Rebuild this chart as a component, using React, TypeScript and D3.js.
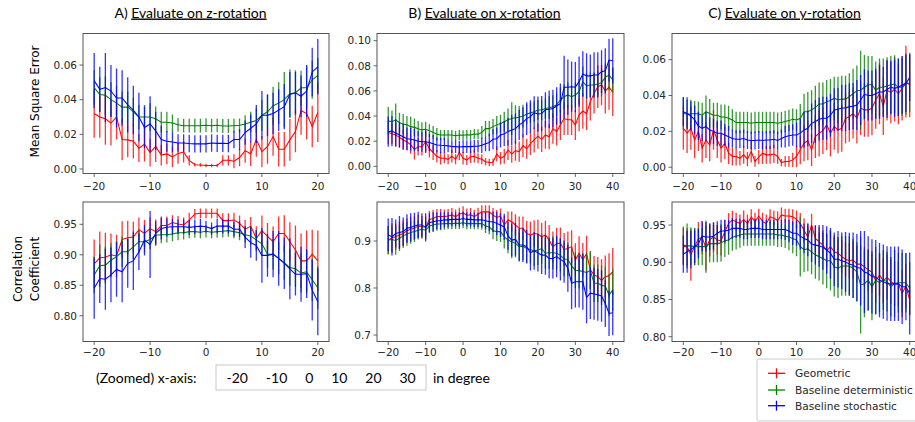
import React from "react";
import * as d3 from "d3";

// ---------- categories (degrees) ----------
const degZ = d3.range(-20, 21);
const degXY = d3.range(-20, 41);

// ---------- tick labels ----------
const ticksMseZ = [0, 0.02, 0.04, 0.06];
const ticksMseX = [0, 0.02, 0.04, 0.06, 0.08, 0.1];
const ticksMseY = [0, 0.02, 0.04, 0.06];
const ticksCorrZ = [0.8, 0.85, 0.9, 0.95];
const ticksCorrX = [0.7, 0.8, 0.9];
const ticksCorrY = [0.8, 0.85, 0.9, 0.95];
const xTicksZ = [-20, -10, 0, 10, 20];
const xTicksXY = [-20, -10, 0, 10, 20, 30, 40];
const titles = ["A) ", "B) ", "C) "];
const titleUnder = ["Evaluate on z-rotation", "Evaluate on x-rotation", "Evaluate on y-rotation"];
const legendLabels = ["Geometric", "Baseline deterministic", "Baseline stochastic"];
const zoomedTicks = ["-20", "-10", "0", "10", "20", "30"];

// ---------- MSE, z-rotation ----------
const mseZ_geo = [0.032,0.030,0.029,0.0265,0.030,0.017,0.0168,0.016,0.012,0.0143,
 0.0095,0.013,0.008,0.0087,0.007,0.009,0.0098,0.005,0.0025,0.0023,
 0.002,0.002,0.002,0.005,0.005,0.0045,0.0066,0.0106,0.0087,0.017,
 0.010,0.013,0.0187,0.0114,0.0114,0.0168,0.0216,0.0338,0.032,0.0245,
 0.0326];
const mseZ_geoErr = [0.014,0.012,0.015,0.013,0.013,0.012,0.010,0.010,0.008,0.010,
 0.008,0.009,0.006,0.006,0.006,0.006,0.006,0.003,0.001,0.001,
 0.001,0.001,0.001,0.003,0.003,0.004,0.005,0.007,0.007,0.010,
 0.009,0.010,0.011,0.010,0.010,0.012,0.012,0.014,0.015,0.012,
 0.017];
const mseZ_det = [0.047,0.043,0.0425,0.040,0.038,0.0357,0.0357,0.033,0.030,0.030,
 0.030,0.029,0.027,0.027,0.0265,0.0255,0.025,0.025,0.025,0.025,
 0.0253,0.025,0.0252,0.0248,0.0248,0.025,0.0252,0.026,0.027,0.028,
 0.031,0.033,0.0365,0.038,0.040,0.0434,0.044,0.0467,0.047,0.0515,
 0.054];
const mseZ_detErr = [0.010,0.010,0.011,0.010,0.010,0.009,0.009,0.008,0.007,0.007,
 0.008,0.007,0.006,0.006,0.005,0.004,0.004,0.004,0.004,0.004,
 0.004,0.004,0.004,0.004,0.004,0.004,0.004,0.005,0.006,0.007,
 0.009,0.010,0.011,0.012,0.016,0.014,0.013,0.010,0.012,0.011,
 0.010];
const mseZ_sto = [0.051,0.046,0.047,0.045,0.041,0.041,0.037,0.034,0.030,0.024,
 0.026,0.022,0.017,0.016,0.0156,0.015,0.015,0.0147,0.0145,0.0145,
 0.0145,0.015,0.0148,0.0148,0.0147,0.017,0.017,0.021,0.0235,0.026,
 0.031,0.031,0.032,0.034,0.036,0.043,0.044,0.042,0.045,0.056,
 0.059];
const mseZ_stoErr = [0.016,0.013,0.020,0.015,0.017,0.016,0.016,0.014,0.014,0.012,
 0.016,0.011,0.008,0.006,0.006,0.005,0.005,0.005,0.005,0.005,
 0.005,0.005,0.005,0.005,0.005,0.005,0.006,0.007,0.008,0.011,
 0.014,0.012,0.012,0.012,0.013,0.013,0.012,0.012,0.015,0.014,
 0.016];

// ---------- MSE, x-rotation ----------
const mseX_geo = [0.027,0.026,0.025,0.023,0.021,0.0196,0.017,0.0135,0.0156,0.0156,
 0.0196,0.014,0.011,0.008,0.0064,0.0064,0.0056,0.008,0.0056,0.011,
 0.0064,0.005,0.0077,0.008,0.0064,0.0056,0.0037,0.003,0.0033,0.0098,
 0.0064,0.008,0.013,0.0098,0.0125,0.0117,0.0165,0.014,0.018,0.021,
 0.024,0.0215,0.025,0.0236,0.030,0.0276,0.033,0.038,0.037,0.037,
 0.033,0.041,0.044,0.042,0.0515,0.058,0.0634,0.0647,0.060,0.063,
 0.059];
const mseX_geoErr = [0.009,0.008,0.009,0.008,0.008,0.007,0.007,0.008,0.007,0.007,0.008,
 0.007,0.006,0.005,0.005,0.004,0.004,0.005,0.004,0.006,
 0.005,0.004,0.005,0.005,0.004,0.004,0.003,0.003,0.003,0.006,0.005,
 0.006,0.008,0.007,0.008,0.008,0.009,0.008,0.009,0.010,0.010,
 0.010,0.011,0.010,0.012,0.011,0.012,0.013,0.012,0.012,0.012,
 0.013,0.014,0.013,0.015,0.016,0.017,0.016,0.018,0.018,0.019];
const mseX_det = [0.0363,0.0355,0.037,0.0347,0.0337,0.033,0.0316,0.031,0.030,0.029,
 0.0295,0.0284,0.027,0.0255,0.025,0.025,0.025,0.025,0.0244,0.025,
 0.0248,0.0252,0.025,0.0257,0.0255,0.027,0.030,0.030,0.0316,0.033,
 0.034,0.0355,0.037,0.038,0.0387,0.039,0.040,0.0414,0.0427,0.0435,
 0.0448,0.0448,0.046,0.0467,0.0475,0.049,0.0528,0.0554,0.0568,0.0554,
 0.0568,0.0594,0.0674,0.064,0.0647,0.0647,0.0655,0.0666,0.0708,0.0727,
 0.0687];
const mseX_detErr = [0.011,0.009,0.013,0.008,0.008,0.007,0.008,0.007,0.006,0.006,0.006,
 0.005,0.005,0.005,0.004,0.004,0.004,0.004,0.004,0.004,
 0.004,0.004,0.004,0.004,0.004,0.005,0.006,0.006,0.006,0.007,0.007,
 0.008,0.009,0.013,0.010,0.009,0.009,0.008,0.008,0.008,0.008,
 0.008,0.008,0.009,0.009,0.009,0.010,0.010,0.010,0.009,0.010,
 0.010,0.012,0.010,0.010,0.010,0.010,0.011,0.011,0.012,0.010];
const mseX_sto = [0.0276,0.028,0.0265,0.025,0.0236,0.022,0.0215,0.021,0.020,0.0196,
 0.0196,0.019,0.018,0.017,0.0167,0.0165,0.0163,0.0157,0.0157,0.0154,
 0.0157,0.0157,0.0157,0.016,0.016,0.0167,0.018,0.019,0.0215,0.022,
 0.025,0.026,0.0276,0.029,0.030,0.033,0.035,0.038,0.0395,0.0427,
 0.0416,0.042,0.045,0.0454,0.046,0.048,0.050,0.063,0.063,0.0634,
 0.063,0.0674,0.0735,0.072,0.072,0.0727,0.0727,0.0753,0.076,0.0846,
 0.084];
const mseX_stoErr = [0.012,0.012,0.011,0.010,0.010,0.009,0.009,0.009,0.008,0.008,0.009,
 0.007,0.007,0.006,0.006,0.006,0.005,0.005,0.005,0.005,
 0.005,0.005,0.005,0.005,0.005,0.006,0.006,0.007,0.008,0.009,0.010,
 0.010,0.011,0.012,0.012,0.012,0.012,0.013,0.013,0.013,0.014,
 0.014,0.014,0.015,0.015,0.015,0.016,0.025,0.022,0.020,0.020,
 0.020,0.018,0.018,0.017,0.018,0.018,0.017,0.018,0.017,0.018];

// ---------- MSE, y-rotation ----------
const mseY_geo = [0.0217,0.019,0.0217,0.0152,0.020,0.0106,0.0152,0.0124,0.0208,0.0152,
 0.0106,0.0134,0.0078,0.006,0.006,0.005,0.0069,0.0045,0.0087,0.0032,
 0.0056,0.0078,0.0069,0.0069,0.0074,0.006,0.0026,0.0032,0.0032,0.0041,
 0.006,0.0097,0.0134,0.0149,0.0097,0.0171,0.019,0.0204,0.0236,0.019,
 0.0227,0.0208,0.0217,0.0273,0.0282,0.030,0.0273,0.0329,0.032,0.032,
 0.0329,0.0375,0.041,0.034,0.043,0.0416,0.0435,0.041,0.044,0.0477,
 0.0459];
const mseY_geoErr = [0.012,0.011,0.012,0.010,0.011,0.008,0.010,0.009,0.011,0.010,0.008,
 0.009,0.006,0.005,0.005,0.004,0.005,0.004,0.006,0.003,
 0.004,0.006,0.005,0.005,0.005,0.004,0.002,0.003,0.003,0.004,0.006,
 0.008,0.010,0.011,0.009,0.012,0.013,0.013,0.014,0.013,0.013,
 0.013,0.013,0.014,0.014,0.014,0.014,0.015,0.015,0.015,0.015,
 0.016,0.017,0.016,0.017,0.017,0.018,0.017,0.018,0.020,0.018];
const mseY_det = [0.030,0.0297,0.0297,0.030,0.0297,0.029,0.031,0.030,0.029,0.029,
 0.028,0.028,0.0273,0.0264,0.0249,0.0249,0.0249,0.0249,0.0245,0.0249,
 0.0249,0.0249,0.0249,0.0249,0.0249,0.0245,0.0249,0.0255,0.026,0.0268,
 0.0264,0.0273,0.031,0.031,0.032,0.0334,0.0353,0.0353,0.0366,0.0372,
 0.0385,0.0375,0.038,0.038,0.0394,0.041,0.0427,0.043,0.0446,0.046,
 0.046,0.043,0.0446,0.0446,0.0453,0.046,0.0464,0.0446,0.0446,0.0464,
 0.047];
const mseY_detErr = [0.009,0.008,0.008,0.007,0.007,0.007,0.009,0.008,0.007,0.007,0.007,
 0.007,0.007,0.006,0.006,0.006,0.006,0.006,0.006,0.006,
 0.006,0.006,0.006,0.006,0.006,0.006,0.006,0.006,0.006,0.006,0.006,
 0.008,0.010,0.011,0.011,0.012,0.012,0.012,0.012,0.012,0.012,
 0.013,0.013,0.013,0.013,0.014,0.014,0.022,0.018,0.016,0.016,
 0.016,0.016,0.016,0.016,0.016,0.016,0.016,0.016,0.017,0.016];
const mseY_sto = [0.031,0.030,0.0286,0.0264,0.023,0.0217,0.0227,0.0208,0.020,0.019,
 0.019,0.018,0.017,0.016,0.0156,0.0156,0.016,0.0152,0.0149,0.0149,
 0.0152,0.0149,0.0152,0.0152,0.0156,0.0149,0.016,0.017,0.0175,0.018,
 0.018,0.019,0.0208,0.0217,0.0245,0.0255,0.0268,0.0273,0.0273,0.029,
 0.032,0.0323,0.033,0.033,0.0338,0.034,0.0347,0.0375,0.0407,0.040,
 0.040,0.041,0.042,0.042,0.0435,0.0446,0.044,0.0446,0.0459,0.0468,
 0.050];
const mseY_stoErr = [0.008,0.009,0.008,0.008,0.008,0.007,0.008,0.007,0.007,0.007,0.007,
 0.006,0.006,0.005,0.005,0.005,0.005,0.005,0.005,0.005,
 0.005,0.005,0.005,0.005,0.005,0.005,0.005,0.006,0.006,0.006,0.007,
 0.008,0.010,0.010,0.011,0.012,0.012,0.012,0.012,0.012,0.012,
 0.012,0.013,0.013,0.013,0.013,0.014,0.014,0.014,0.014,0.014,
 0.014,0.015,0.014,0.016,0.015,0.016,0.016,0.016,0.016,0.013];

// ---------- Correlation, z-rotation ----------
const corZ_geo = [0.885,0.895,0.896,0.900,0.898,0.925,0.928,0.929,0.941,0.935,
 0.943,0.938,0.948,0.948,0.953,0.9505,0.949,0.957,0.967,0.968,
 0.968,0.968,0.968,0.956,0.956,0.957,0.9516,0.942,0.947,0.927,
 0.9396,0.930,0.9215,0.935,0.935,0.9215,0.908,0.890,0.890,0.901,
 0.890];
const corZ_geoErr = [0.040,0.043,0.040,0.035,0.035,0.030,0.028,0.025,0.020,0.022,
 0.018,0.020,0.015,0.015,0.012,0.013,0.012,0.012,0.008,0.008,
 0.008,0.008,0.008,0.012,0.012,0.012,0.013,0.015,0.015,0.020,
 0.025,0.022,0.025,0.028,0.030,0.032,0.040,0.045,0.050,0.040,
 0.050];
const corZ_det = [0.867,0.882,0.883,0.891,0.897,0.905,0.905,0.913,0.9215,0.9215,
 0.925,0.932,0.933,0.933,0.934,0.936,0.936,0.938,0.938,0.937,
 0.9385,0.937,0.938,0.9385,0.9396,0.938,0.936,0.933,0.931,0.924,
 0.918,0.901,0.901,0.894,0.887,0.879,0.877,0.870,0.872,0.859,
 0.846];
const corZ_detErr = [0.030,0.035,0.030,0.028,0.025,0.025,0.022,0.020,0.018,0.018,
 0.016,0.015,0.014,0.013,0.012,0.012,0.011,0.011,0.010,0.010,
 0.010,0.010,0.010,0.010,0.010,0.011,0.012,0.013,0.015,0.017,
 0.020,0.022,0.025,0.026,0.028,0.030,0.030,0.032,0.035,0.035,
 0.035];
const corZ_sto = [0.845,0.861,0.860,0.867,0.876,0.872,0.886,0.890,0.905,0.924,
 0.917,0.935,0.943,0.945,0.946,0.946,0.946,0.945,0.946,0.947,
 0.946,0.943,0.947,0.947,0.947,0.942,0.942,0.929,0.920,0.915,
 0.899,0.899,0.901,0.894,0.886,0.877,0.868,0.868,0.869,0.842,
 0.823];
const corZ_stoErr = [0.050,0.040,0.050,0.045,0.045,0.050,0.040,0.048,0.030,0.025,
 0.055,0.020,0.018,0.015,0.013,0.012,0.012,0.012,0.012,0.012,
 0.010,0.010,0.012,0.012,0.012,0.012,0.013,0.018,0.025,0.025,
 0.045,0.035,0.038,0.045,0.042,0.050,0.035,0.045,0.040,0.050,
 0.055];

// ---------- Correlation, x-rotation ----------
const corX_geo = [0.902,0.907,0.909,0.913,0.916,0.922,0.925,0.927,0.932,0.930,
 0.930,0.946,0.948,0.952,0.952,0.952,0.953,0.955,0.952,0.957,
 0.960,0.955,0.956,0.952,0.957,0.962,0.962,0.962,0.955,0.950,
 0.953,0.934,0.945,0.941,0.934,0.927,0.927,0.916,0.913,0.916,
 0.915,0.909,0.913,0.902,0.887,0.895,0.895,0.882,0.884,0.888,
 0.860,0.874,0.860,0.873,0.839,0.828,0.824,0.816,0.824,0.826,
 0.835];
const corX_geoErr = [0.030,0.030,0.028,0.028,0.027,0.026,0.026,0.025,0.024,0.023,0.022,
 0.018,0.018,0.016,0.016,0.015,0.015,0.015,0.015,0.014,
 0.014,0.014,0.014,0.014,0.014,0.014,0.014,0.014,0.015,0.016,0.016,
 0.020,0.018,0.022,0.023,0.025,0.025,0.027,0.028,0.028,0.030,
 0.030,0.030,0.032,0.033,0.033,0.034,0.035,0.036,0.035,0.035,
 0.036,0.036,0.038,0.040,0.040,0.042,0.045,0.045,0.048,0.050];
const corX_det = [0.902,0.903,0.901,0.906,0.911,0.915,0.918,0.920,0.923,0.925,
 0.923,0.932,0.934,0.936,0.936,0.937,0.937,0.937,0.9375,0.9375,
 0.939,0.937,0.9375,0.937,0.937,0.937,0.932,0.930,0.922,0.920,
 0.920,0.909,0.902,0.8985,0.895,0.888,0.889,0.884,0.882,0.879,
 0.881,0.884,0.874,0.875,0.875,0.874,0.870,0.861,0.861,0.847,
 0.838,0.837,0.835,0.833,0.837,0.810,0.810,0.806,0.804,0.785,
 0.796];
const corX_detErr = [0.030,0.028,0.030,0.027,0.026,0.025,0.024,0.022,0.020,0.020,0.020,
 0.015,0.015,0.014,0.013,0.013,0.012,0.012,0.012,0.012,
 0.012,0.012,0.012,0.012,0.012,0.013,0.015,0.016,0.018,0.020,0.022,
 0.025,0.028,0.035,0.030,0.030,0.030,0.030,0.030,0.032,0.032,
 0.032,0.033,0.034,0.035,0.035,0.035,0.036,0.036,0.037,0.038,
 0.038,0.038,0.040,0.040,0.040,0.040,0.042,0.042,0.045,0.045];
const corX_sto = [0.913,0.909,0.916,0.918,0.920,0.927,0.929,0.932,0.934,0.934,
 0.929,0.939,0.941,0.943,0.943,0.945,0.945,0.946,0.946,0.946,
 0.948,0.946,0.946,0.945,0.945,0.945,0.943,0.941,0.941,0.9375,
 0.934,0.930,0.911,0.902,0.9035,0.8915,0.8915,0.888,0.875,0.879,
 0.875,0.870,0.870,0.863,0.863,0.867,0.861,0.856,0.842,0.810,
 0.8135,0.8135,0.8135,0.780,0.789,0.7875,0.7855,0.783,0.767,0.746,
 0.7475];
const corX_stoErr = [0.035,0.040,0.030,0.035,0.030,0.030,0.030,0.028,0.028,0.025,0.030,
 0.020,0.020,0.018,0.018,0.016,0.016,0.015,0.015,0.015,
 0.015,0.015,0.015,0.015,0.015,0.016,0.018,0.020,0.022,0.025,0.025,
 0.028,0.030,0.035,0.035,0.035,0.036,0.036,0.038,0.040,0.040,
 0.040,0.042,0.042,0.043,0.044,0.045,0.045,0.050,0.055,0.055,
 0.055,0.060,0.055,0.055,0.055,0.055,0.055,0.050,0.048,0.048];

// ---------- Correlation, y-rotation ----------
const corY_geo = [0.921,0.921,0.910,0.921,0.932,0.933,0.919,0.930,0.934,0.930,
 0.929,0.941,0.952,0.957,0.9545,0.952,0.9575,0.952,0.961,0.9545,
 0.962,0.9545,0.952,0.961,0.959,0.956,0.9635,0.962,0.962,0.961,
 0.9575,0.952,0.943,0.934,0.950,0.932,0.9275,0.923,0.9155,0.921,
 0.914,0.912,0.9075,0.904,0.902,0.903,0.8975,0.8975,0.894,0.8895,
 0.887,0.875,0.883,0.875,0.880,0.874,0.871,0.871,0.858,0.868,
 0.849];
const corY_geoErr = [0.025,0.025,0.035,0.025,0.022,0.022,0.030,0.022,0.020,0.020,0.020,
 0.016,0.014,0.012,0.012,0.012,0.012,0.012,0.010,0.012,
 0.010,0.012,0.012,0.010,0.010,0.012,0.010,0.010,0.010,0.010,0.012,
 0.014,0.016,0.018,0.015,0.018,0.020,0.020,0.022,0.022,0.022,
 0.022,0.022,0.023,0.024,0.025,0.025,0.025,0.026,0.028,0.028,
 0.030,0.028,0.030,0.030,0.030,0.030,0.030,0.032,0.030,0.020];
const corY_det = [0.923,0.922,0.922,0.921,0.921,0.921,0.921,0.925,0.925,0.925,
 0.926,0.929,0.930,0.9335,0.935,0.9365,0.938,0.938,0.938,0.938,
 0.938,0.938,0.938,0.938,0.938,0.9365,0.9365,0.935,0.934,0.932,
 0.930,0.921,0.917,0.918,0.914,0.910,0.9075,0.905,0.902,0.902,
 0.894,0.892,0.895,0.895,0.895,0.892,0.887,0.8695,0.871,0.876,
 0.867,0.876,0.8725,0.876,0.874,0.867,0.8715,0.8725,0.8725,0.8725,
 0.865];
const corY_detErr = [0.025,0.030,0.025,0.025,0.025,0.025,0.035,0.025,0.025,0.025,0.025,
 0.022,0.020,0.018,0.018,0.017,0.016,0.016,0.016,0.016,
 0.016,0.016,0.016,0.016,0.016,0.016,0.016,0.016,0.018,0.020,0.022,
 0.040,0.030,0.030,0.030,0.032,0.032,0.035,0.037,0.040,0.040,
 0.040,0.040,0.040,0.040,0.040,0.040,0.065,0.045,0.040,0.045,
 0.045,0.040,0.040,0.040,0.040,0.045,0.040,0.040,0.040,0.035];
const corY_sto = [0.911,0.914,0.917,0.921,0.925,0.935,0.934,0.934,0.935,0.939,
 0.942,0.942,0.943,0.9455,0.9455,0.9455,0.944,0.944,0.9455,0.9455,
 0.9455,0.944,0.944,0.944,0.944,0.944,0.944,0.944,0.942,0.939,
 0.939,0.935,0.932,0.930,0.9245,0.923,0.922,0.920,0.9165,0.912,
 0.904,0.904,0.902,0.9005,0.8975,0.896,0.893,0.892,0.887,0.885,
 0.881,0.880,0.876,0.874,0.8715,0.871,0.871,0.871,0.867,0.867,
 0.858];
const corY_stoErr = [0.025,0.028,0.025,0.022,0.020,0.020,0.020,0.018,0.018,0.016,0.015,
 0.015,0.014,0.014,0.013,0.013,0.013,0.013,0.013,0.013,
 0.013,0.013,0.013,0.013,0.013,0.013,0.013,0.014,0.015,0.016,0.017,
 0.018,0.020,0.022,0.024,0.026,0.028,0.030,0.032,0.034,0.036,
 0.038,0.038,0.040,0.042,0.044,0.045,0.050,0.055,0.050,0.050,
 0.050,0.050,0.050,0.050,0.050,0.050,0.050,0.050,0.045,0.055];

// ---------- styling ----------
const COLORS = ["#ff0000", "#008000", "#0000ff"];
const TICK_FONT = "'DejaVu Sans', sans-serif";
const TEXT_FONT = "Lato, 'DejaVu Sans', sans-serif";
const TXT = "#262626";

type Series = { mean: number[]; err: number[] };

type PanelProps = {
  id: string;
  x0: number; x1: number; y0: number; y1: number;
  xDom: [number, number]; yDom: [number, number];
  xs: number[]; xTicks: number[]; yTicks: number[]; yFmt: string;
  series: Series[]; xLabelDy: number;
};

function fmtX(v: number) {
  return v < 0 ? "\u2212" + Math.abs(v) : String(v);
}

function Panel(p: PanelProps) {
  const x = d3.scaleLinear().domain(p.xDom).range([p.x0, p.x1]);
  const y = d3.scaleLinear().domain(p.yDom).range([p.y1, p.y0]);
  const line = d3.line<number>().x((_, i) => x(p.xs[i])).y((d) => y(d));
  const f = d3.format(p.yFmt);
  return (
    <g>
      <defs>
        <clipPath id={p.id}>
          <rect x={p.x0} y={p.y0} width={p.x1 - p.x0} height={p.y1 - p.y0} />
        </clipPath>
      </defs>
      <rect x={p.x0} y={p.y0} width={p.x1 - p.x0} height={p.y1 - p.y0} fill="#fff" />
      <g clipPath={`url(#${p.id})`}>
        {p.series.map((s, si) => (
          <g key={si}>
            {s.mean.map((m, i) => (
              <line key={i} x1={x(p.xs[i])} x2={x(p.xs[i])} y1={y(m - s.err[i])} y2={y(m + s.err[i])}
                stroke={COLORS[si]} strokeWidth={1.3} strokeOpacity={0.8} />
            ))}
            <path d={line(s.mean) || ""} fill="none" stroke={COLORS[si]} strokeWidth={1.05} />
          </g>
        ))}
      </g>
      <rect x={p.x0} y={p.y0} width={p.x1 - p.x0} height={p.y1 - p.y0} fill="none" stroke="#555" strokeWidth={1} />
      {p.yTicks.map((t) => (
        <g key={"y" + t}>
          <line x1={p.x0 - 3.5} x2={p.x0} y1={y(t)} y2={y(t)} stroke="#555" strokeWidth={0.9} />
          <text x={p.x0 - 6} y={y(t)} dy="0.36em" textAnchor="end" fontFamily={TICK_FONT} fontSize={10.5} fill={TXT}>
            {f(t)}
          </text>
        </g>
      ))}
      {p.xTicks.map((t) => (
        <g key={"x" + t}>
          <line x1={x(t)} x2={x(t)} y1={p.y1} y2={p.y1 + 3.5} stroke="#555" strokeWidth={0.9} />
          <text x={x(t)} y={p.y1 + p.xLabelDy} dy="0.36em" textAnchor="middle" fontFamily={TICK_FONT} fontSize={10.5} fill={TXT}>
            {fmtX(t)}
          </text>
        </g>
      ))}
    </g>
  );
}

export default function App() {
  const colsX = [83, 377, 672];
  const colsW = [246, 247, 249];
  const top = { y0: 33.5, y1: 173.5 };
  const bot = { y0: 202, y1: 341.5 };

  const panels: PanelProps[] = [
    { id: "c1", x0: colsX[0], x1: colsX[0] + colsW[0], ...top, xDom: [-22, 22], yDom: [-0.0026, 0.0782],
      xs: degZ, xTicks: xTicksZ, yTicks: ticksMseZ, yFmt: ".2f", xLabelDy: 13,
      series: [{ mean: mseZ_geo, err: mseZ_geoErr }, { mean: mseZ_det, err: mseZ_detErr }, { mean: mseZ_sto, err: mseZ_stoErr }] },
    { id: "c2", x0: colsX[1], x1: colsX[1] + colsW[1], ...top, xDom: [-23, 43], yDom: [-0.0057, 0.1057],
      xs: degXY, xTicks: xTicksXY, yTicks: ticksMseX, yFmt: ".2f", xLabelDy: 13,
      series: [{ mean: mseX_geo, err: mseX_geoErr }, { mean: mseX_det, err: mseX_detErr }, { mean: mseX_sto, err: mseX_stoErr }] },
    { id: "c3", x0: colsX[2], x1: colsX[2] + colsW[2], ...top, xDom: [-23, 43], yDom: [-0.0035, 0.0746],
      xs: degXY, xTicks: xTicksXY, yTicks: ticksMseY, yFmt: ".2f", xLabelDy: 13,
      series: [{ mean: mseY_geo, err: mseY_geoErr }, { mean: mseY_det, err: mseY_detErr }, { mean: mseY_sto, err: mseY_stoErr }] },
    { id: "c4", x0: colsX[0], x1: colsX[0] + colsW[0], ...bot, xDom: [-22, 22], yDom: [0.7577, 0.9866],
      xs: degZ, xTicks: xTicksZ, yTicks: ticksCorrZ, yFmt: ".2f", xLabelDy: 10.5,
      series: [{ mean: corZ_geo, err: corZ_geoErr }, { mean: corZ_det, err: corZ_detErr }, { mean: corZ_sto, err: corZ_stoErr }] },
    { id: "c5", x0: colsX[1], x1: colsX[1] + colsW[1], ...bot, xDom: [-23, 43], yDom: [0.6862, 0.983],
      xs: degXY, xTicks: xTicksXY, yTicks: ticksCorrX, yFmt: ".1f", xLabelDy: 10.5,
      series: [{ mean: corX_geo, err: corX_geoErr }, { mean: corX_det, err: corX_detErr }, { mean: corX_sto, err: corX_stoErr }] },
    { id: "c6", x0: colsX[2], x1: colsX[2] + colsW[2], ...bot, xDom: [-23, 43], yDom: [0.7936, 0.9809],
      xs: degXY, xTicks: xTicksXY, yTicks: ticksCorrY, yFmt: ".2f", xLabelDy: 10.5,
      series: [{ mean: corY_geo, err: corY_geoErr }, { mean: corY_det, err: corY_detErr }, { mean: corY_sto, err: corY_stoErr }] },
  ];

  const titleCx = [190.5, 484.5, 784.5];
  const legendY = [373.3, 390, 405.7];

  return (
    <svg width={915} height={422} style={{ position: "absolute", left: 0, top: 0, display: "block", background: "#fff" }}>
      <rect x={0} y={0} width={915} height={422} fill="#fff" />
      {titles.map((t, i) => (
        <text key={i} x={titleCx[i]} y={17.5} textAnchor="middle" fontFamily={TEXT_FONT} fontSize={14} fill="#000">
          <tspan>{t}</tspan>
          <tspan textDecoration="underline" style={{ textDecoration: "underline" }}>{titleUnder[i]}</tspan>
        </text>
      ))}
      <text transform="translate(34.5,101.5) rotate(-90)" textAnchor="middle" dy="0.36em" fontFamily={TICK_FONT} fontSize={12} fill="#000">
        Mean Square Error
      </text>
      <text transform="translate(17.5,269) rotate(-90)" textAnchor="middle" dy="0.36em" fontFamily={TICK_FONT} fontSize={12} fill="#000">
        Correlation
      </text>
      <text transform="translate(34.5,269) rotate(-90)" textAnchor="middle" dy="0.36em" fontFamily={TICK_FONT} fontSize={12} fill="#000">
        Coefficient
      </text>

      {panels.map((p) => (
        <Panel key={p.id} {...p} />
      ))}

      {/* zoomed x-axis note */}
      <text x={96} y={378} dy="0.36em" fontFamily={TEXT_FONT} fontSize={14} fill="#000">(Zoomed) x-axis:</text>
      <rect x={216} y={365} width={210} height={25} fill="#fff" stroke="#c8c8c8" strokeWidth={1} />
      <text x={226.5} y={378} dy="0.36em" fontFamily={TEXT_FONT} fontSize={14} fill="#000" wordSpacing={14.3} style={{ whiteSpace: "pre" }}>
        {zoomedTicks.join(" ")}
      </text>
      <text x={433} y={378} dy="0.36em" fontFamily={TEXT_FONT} fontSize={14} fill="#000">in degree</text>

      {/* legend */}
      <rect x={757} y={359} width={175} height={62} rx={2} fill="#fff" stroke="#cccccc" strokeWidth={1} />
      {legendLabels.map((l, i) => (
        <g key={l}>
          <line x1={768} x2={785} y1={legendY[i]} y2={legendY[i]} stroke={COLORS[i]} strokeWidth={1.3} />
          <line x1={776.5} x2={776.5} y1={legendY[i] - 5} y2={legendY[i] + 5} stroke={COLORS[i]} strokeWidth={1.3} />
          <text x={795} y={legendY[i]} dy="0.36em" fontFamily={TICK_FONT} fontSize={10.6} fill={TXT}>{l}</text>
        </g>
      ))}
    </svg>
  );
}
